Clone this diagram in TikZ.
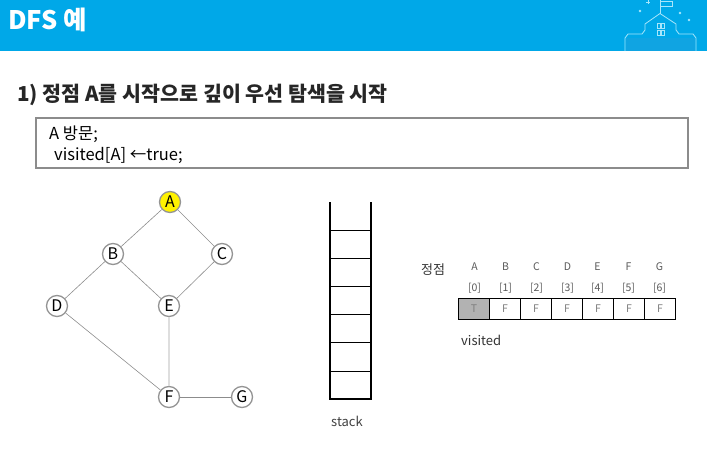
\documentclass[tikz,border=0pt]{standalone}
\usepackage{fontspec}
\setmainfont{Noto Sans CJK KR}
\definecolor{bannerblue}{HTML}{00A8E8}
\definecolor{iconline}{HTML}{A8E6FB}
\definecolor{icondark}{HTML}{10A4E2}
\definecolor{edgegray}{HTML}{8C8C8C}
\tikzset{
  vertex/.style={circle,draw=black!42,line width=1.3pt,fill=white,inner sep=0pt,minimum size=21pt,font=\fontsize{16}{16}\selectfont},
  edge/.style={draw=edgegray,line width=0.6pt},
  cell/.style={draw=black,line width=0.9pt,fill=white,inner sep=0pt,minimum width=31pt,minimum height=21pt,text=black!50,font=\fontsize{10.5}{10.5}\selectfont},
  tag/.style={inner sep=0pt,text=black!65,font=\fontsize{10.5}{10.5}\selectfont},
  slot/.style={line width=0.9pt,draw=black},
  wall/.style={line width=2.2pt,draw=black},
  icon/.style={draw=iconline,line width=0.8pt}
}
\begin{document}
\begin{tikzpicture}[x=1pt,y=-1pt]
  \useasboundingbox (0,0) rectangle (707,450);
  % banner
  \fill[bannerblue] (0,0) rectangle (707,51);
  \node[anchor=west,inner sep=0pt,text=white,font=\fontsize{25.5}{25.5}\selectfont\bfseries] (title) at (8,20) {DFS 예};
  % school icon
  \fill[icondark] (626,38) -- (695,38) -- (695,51) -- (626,51) -- cycle;
  \draw[icon] (625,51) -- (625,38) -- (628,34) -- (642,34) -- (645,30) -- (645,24) -- (660,13.5) -- (676,24) -- (676,30) -- (679,34) -- (693,34) -- (696,38) -- (696,51);
  \draw[icon] (660,13.5) -- (660,0);
  \draw[icon] (661,1) -- (672,1) -- (672,6) -- (661,6);
  \draw[icon] (657,23) rectangle (660,28);
  \draw[icon] (661.5,23) rectangle (664.5,28);
  \draw[icon] (657,30) rectangle (660,35);
  \draw[icon] (661.5,30) rectangle (664.5,35);
  \draw[icon] (646,2) -- (650,2) (648,0) -- (648,4);
  \fill[iconline] (640,11) circle (1.3);
  \fill[iconline] (680,13) circle (1.3);
  \fill[iconline] (689,20) circle (1.3);
  % heading and code box
  \node[anchor=west,inner sep=0pt,font=\fontsize{20.6}{20.6}\selectfont\bfseries,text=black!85] (heading) at (17,94.5) {1) 정점 A를 시작으로 깊이 우선 탐색을 시작};
  \draw[draw=black!45,line width=1.5pt,fill=white] (36,118) rectangle (688,168);
  \node[anchor=west,inner sep=0pt,font=\fontsize{16.5}{16.5}\selectfont] (visit) at (49,134) {A 방문;};
  \node[anchor=west,inner sep=0pt,font=\fontsize{16.5}{16.5}\selectfont] (assign) at (54,155) {visited[A] ←true;};
  % graph
  \node[vertex,fill=yellow] (A) at (170,202) {A};
  \node[vertex] (B) at (113,254) {B};
  \node[vertex] (C) at (222,254) {C};
  \node[vertex] (D) at (57,306) {D};
  \node[vertex] (E) at (169,306) {E};
  \node[vertex] (F) at (169,397) {F};
  \node[vertex] (G) at (242,397) {G};
  \draw[edge] (A) to (B);
  \draw[edge] (A) to (C);
  \draw[edge] (B) to (D);
  \draw[edge] (B) to (E);
  \draw[edge] (C) to (E);
  \draw[edge] (D) to (F);
  \draw[draw=black!13,line width=1.6pt] (E) to (F);
  \draw[edge] (F) to (G);
  % stack
  \coordinate (sl) at (330,202);
  \coordinate (sr) at (371,202);
  \coordinate (bl) at (330,399);
  \coordinate (br) at (371,399);
  \draw[wall,line join=miter] (sl) -- (bl) -- (br) -- (sr);
  \draw[slot] (330,230) -- (371,230);
  \draw[slot] (330,258) -- (371,258);
  \draw[slot] (330,286) -- (371,286);
  \draw[slot] (330,314) -- (371,314);
  \draw[slot] (330,342) -- (371,342);
  \draw[slot] (330,371) -- (371,371);
  \node[inner sep=0pt,text=black!75,font=\fontsize{13}{13}\selectfont] (stack) at (347,421) {stack};
  % visited array
  \node[inner sep=0pt,text=black!80,font=\fontsize{13}{13}\selectfont] (vname) at (433,270) {정점};
  \node[tag] (hA) at (474.5,267) {A};
  \node[tag] (hB) at (505.5,267) {B};
  \node[tag] (hC) at (536.5,267) {C};
  \node[tag] (hD) at (567.5,267) {D};
  \node[tag] (hE) at (597.5,267) {E};
  \node[tag] (hF) at (628.5,267) {F};
  \node[tag] (hG) at (659.5,267) {G};
  \node[tag] (i0) at (474.5,288) {[0]};
  \node[tag] (i1) at (505.5,288) {[1]};
  \node[tag] (i2) at (536.5,288) {[2]};
  \node[tag] (i3) at (567.5,288) {[3]};
  \node[tag] (i4) at (597.5,288) {[4]};
  \node[tag] (i5) at (628.5,288) {[5]};
  \node[tag] (i6) at (659.5,288) {[6]};
  \node[cell,fill=black!30] (c0) at (474,308.5) {T};
  \node[cell] (c1) at (505,308.5) {F};
  \node[cell] (c2) at (536,308.5) {F};
  \node[cell] (c3) at (567,308.5) {F};
  \node[cell] (c4) at (598,308.5) {F};
  \node[cell] (c5) at (629,308.5) {F};
  \node[cell] (c6) at (660,308.5) {F};
  \node[anchor=west,inner sep=0pt,text=black!80,font=\fontsize{13}{13}\selectfont] (vlabel) at (461,340) {visited};
\end{tikzpicture}
\end{document}
